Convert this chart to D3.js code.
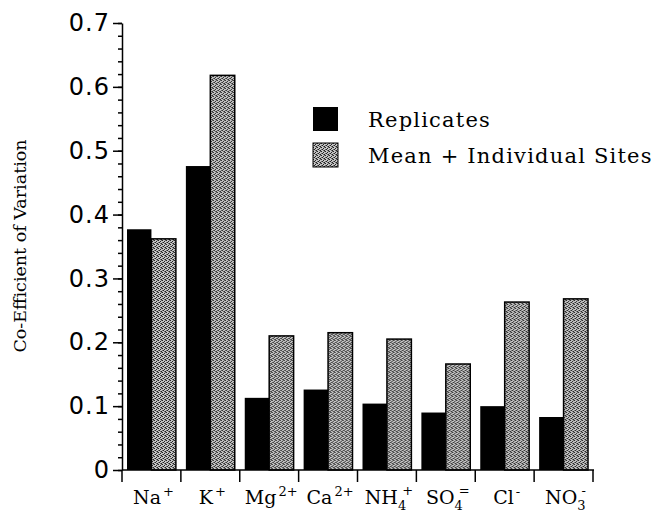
<!DOCTYPE html>
<html>
<head>
<meta charset="utf-8">
<script src="https://cdn.jsdelivr.net/npm/d3@7"></script>
<style>
  body { margin: 0; background: #fff; }
  .tick text { font-family: "DejaVu Sans", sans-serif; }
</style>
</head>
<body>
<div id="chart"></div>
<script>
// ions along the x axis (base text, subscript, superscript)
var ions = ["Na", "K", "Mg", "Ca", "NH", "SO", "Cl", "NO"];
var ionSub = ["", "", "", "", "4", "4", "", "3"];
var ionSup = ["+", "+", "2+", "2+", "+", "=", "-", "-"];

// series values
var seriesNames = ["Replicates", "Mean + Individual Sites"];
var replicates = [0.377, 0.476, 0.113, 0.126, 0.104, 0.090, 0.100, 0.083];
var meanSites = [0.362, 0.618, 0.210, 0.215, 0.205, 0.166, 0.263, 0.268];

// y axis ticks
var majorTicks = [0, 0.1, 0.2, 0.3, 0.4, 0.5, 0.6, 0.7];
var minorTicks = d3.range(0, 0.701, 0.02);

var width = 659, height = 517;

var svg = d3.select("#chart").append("svg")
    .attr("width", width)
    .attr("height", height);

// stippled grey fill for the second series
var defs = svg.append("defs");
var pat = defs.append("pattern")
    .attr("id", "stipple")
    .attr("patternUnits", "userSpaceOnUse")
    .attr("width", 4)
    .attr("height", 4);
pat.append("rect").attr("width", 4).attr("height", 4).attr("fill", "#c4c4c4");
[[0, 0], [2, 1], [1, 2], [3, 3], [0, 2], [2, 3], [3, 0]].forEach(function(p, i) {
  pat.append("rect")
    .attr("x", p[0]).attr("y", p[1])
    .attr("width", 1).attr("height", 1)
    .attr("fill", i < 4 ? "#222" : "#6a6a6a");
});

// scales
var x = d3.scaleBand()
    .domain(ions)
    .range([122, 593])
    .padding(0);

var xSub = d3.scaleBand()
    .domain(seriesNames)
    .range([5, x.bandwidth() - 5])
    .padding(0);

var y = d3.scaleLinear()
    .domain([0, 0.7])
    .range([470, 23]);

// bars
var groups = svg.append("g").selectAll("g")
    .data(ions)
    .enter().append("g")
    .attr("transform", function(d) { return "translate(" + x(d) + ",0)"; });

groups.append("rect")
    .attr("x", xSub(seriesNames[0]))
    .attr("y", function(d, i) { return y(replicates[i]); })
    .attr("width", xSub.bandwidth())
    .attr("height", function(d, i) { return y(0) - y(replicates[i]); })
    .attr("fill", "#000");

groups.append("rect")
    .attr("x", xSub(seriesNames[1]))
    .attr("y", function(d, i) { return y(meanSites[i]); })
    .attr("width", xSub.bandwidth())
    .attr("height", function(d, i) { return y(0) - y(meanSites[i]); })
    .attr("fill", "url(#stipple)")
    .attr("stroke", "#000")
    .attr("stroke-width", 1.5);

// y axis, minor ticks first then the labelled ones
svg.append("g")
    .attr("transform", "translate(122,0)")
    .call(d3.axisLeft(y).tickValues(minorTicks).tickSize(4).tickFormat(""))
    .call(function(g) { g.select(".domain").remove(); })
    .selectAll("line").attr("stroke-width", 1.5);

var yAxis = svg.append("g")
    .attr("transform", "translate(122,0)")
    .call(d3.axisLeft(y)
      .tickValues(majorTicks)
      .tickSize(9)
      .tickSizeOuter(0)
      .tickPadding(3)
      .tickFormat(function(d) { return d === 0 ? "0" : d3.format(".1f")(d); }));
yAxis.select(".domain").attr("stroke-width", 1.5);
yAxis.selectAll("line").attr("stroke-width", 1.5);
yAxis.selectAll("text")
    .attr("font-size", 24)
    .attr("letter-spacing", 1)
    .attr("fill", "#000");

// x axis: baseline and tick marks between categories
var bounds = ions.map(function(d) { return x(d); }).concat([x.range()[1]]);
svg.append("line")
    .attr("x1", x.range()[0]).attr("x2", x.range()[1] + 1)
    .attr("y1", y(0)).attr("y2", y(0))
    .attr("stroke", "#000").attr("stroke-width", 1.5);
svg.append("g").selectAll("line")
    .data(bounds)
    .enter().append("line")
    .attr("x1", function(d) { return d; })
    .attr("x2", function(d) { return d; })
    .attr("y1", y(0))
    .attr("y2", y(0) + 12)
    .attr("stroke", "#000").attr("stroke-width", 1.5);

// category labels with sub/superscripts
var labels = svg.append("g").selectAll("text")
    .data(ions)
    .enter().append("text")
    .attr("x", function(d) { return x(d) + x.bandwidth() / 2 + 2; })
    .attr("y", 504)
    .attr("text-anchor", "middle")
    .attr("font-family", "DejaVu Serif, serif")
    .attr("font-size", 19);

labels.append("tspan").text(function(d) { return d; });
labels.each(function(d, i) {
  var t = d3.select(this);
  if (ionSub[i]) {
    t.append("tspan").attr("dy", 6).attr("font-size", 13).text(ionSub[i]);
    t.append("tspan").attr("dy", -15).attr("dx", -4).attr("font-size", 13).text(ionSup[i]);
  } else {
    t.append("tspan").attr("dy", -8).attr("dx", 2).attr("font-size", 13).text(ionSup[i]);
  }
});

// y axis title
svg.append("text")
    .attr("transform", "translate(26,246) rotate(-90)")
    .attr("text-anchor", "middle")
    .attr("font-family", "DejaVu Serif, serif")
    .attr("font-size", 17.5)
    .text("Co-Efficient of Variation");

// legend
var legend = svg.append("g").selectAll("g")
    .data(seriesNames)
    .enter().append("g")
    .attr("transform", function(d, i) { return "translate(313," + (107 + i * 36) + ")"; });

legend.append("rect")
    .attr("width", 25)
    .attr("height", 24)
    .attr("fill", function(d, i) { return i === 0 ? "#000" : "url(#stipple)"; })
    .attr("stroke", function(d, i) { return i === 0 ? "none" : "#000"; })
    .attr("stroke-width", 1);

legend.append("text")
    .attr("x", 55)
    .attr("y", 20)
    .attr("font-family", "DejaVu Serif, serif")
    .attr("font-size", 21)
    .attr("letter-spacing", 1.2)
    .text(function(d) { return d; });
</script>
</body>
</html>
